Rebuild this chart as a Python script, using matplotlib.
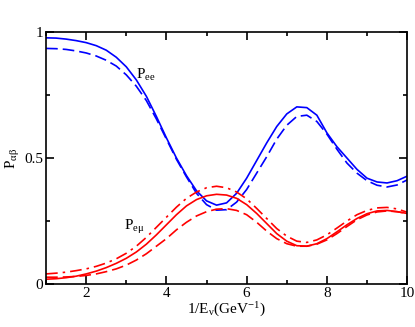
import numpy as np
import matplotlib.pyplot as plt
from matplotlib.ticker import MultipleLocator

plt.rcParams['font.family'] = ['Liberation Serif', 'DejaVu Serif']
plt.rcParams['mathtext.fontset'] = 'custom'
plt.rcParams['mathtext.rm'] = 'Liberation Serif'
plt.rcParams['mathtext.it'] = 'Liberation Serif:italic'

# 1/E_nu grid (GeV^-1)
x = [1.0, 1.25, 1.5, 1.75, 2.0, 2.25, 2.5, 2.75, 3.0, 3.25, 3.5, 3.75, 4.0, 4.25,
     4.5, 4.75, 5.0, 5.25, 5.5, 5.75, 6.0, 6.25, 6.5, 6.75, 7.0, 7.25, 7.5, 7.75,
     8.0, 8.25, 8.5, 8.75, 9.0, 9.25, 9.5, 9.75, 10.0]

# Pee (blue)
pee_solid = [0.977, 0.976, 0.972, 0.966, 0.958, 0.946, 0.928, 0.90, 0.862, 0.81,
             0.745, 0.665, 0.58, 0.50, 0.43, 0.37, 0.33, 0.313, 0.322, 0.36, 0.42,
             0.49, 0.56, 0.625, 0.675, 0.703, 0.70, 0.67, 0.60, 0.545, 0.50, 0.455,
             0.42, 0.405, 0.401, 0.41, 0.428]
pee_dashed = [0.935, 0.934, 0.931, 0.925, 0.917, 0.905, 0.888, 0.865, 0.83, 0.785,
              0.728, 0.655, 0.575, 0.495, 0.425, 0.36, 0.315, 0.293, 0.295, 0.325,
              0.375, 0.44, 0.505, 0.575, 0.63, 0.665, 0.67, 0.645, 0.595, 0.535,
              0.48, 0.44, 0.41, 0.392, 0.385, 0.393, 0.413]

# Pemu (red)
pem_solid = [0.019, 0.021, 0.025, 0.031, 0.04, 0.051, 0.065, 0.082, 0.102, 0.127,
             0.158, 0.195, 0.235, 0.275, 0.31, 0.335, 0.35, 0.356, 0.353, 0.34, 0.315,
             0.28, 0.24, 0.20, 0.17, 0.152, 0.15, 0.16, 0.18, 0.207, 0.235, 0.26,
             0.279, 0.29, 0.292, 0.287, 0.28]
pem_dashed = [0.027, 0.027, 0.028, 0.03, 0.034, 0.04, 0.049, 0.06, 0.075, 0.095,
              0.12, 0.15, 0.18, 0.215, 0.245, 0.27, 0.287, 0.297, 0.299, 0.292,
              0.275, 0.245, 0.21, 0.18, 0.16, 0.15, 0.15, 0.158, 0.175, 0.2, 0.228,
              0.255, 0.274, 0.286, 0.29, 0.287, 0.28]
pem_dashdot = [0.04, 0.043, 0.047, 0.053, 0.06, 0.07, 0.083, 0.10, 0.122, 0.15,
               0.185, 0.225, 0.265, 0.305, 0.34, 0.365, 0.382, 0.388, 0.382, 0.365,
               0.338, 0.30, 0.26, 0.22, 0.19, 0.17, 0.165, 0.175, 0.195, 0.222, 0.25,
               0.275, 0.292, 0.302, 0.304, 0.298, 0.285]

fig = plt.figure(figsize=(4.15, 3.27), dpi=100)
ax = fig.add_axes([0.111, 0.1315, 0.870, 0.7705])

lw = 1.2
blue, red = '#0000ff', '#ff0000'
ax.plot(x, pee_solid, color=blue, lw=lw)
ax.plot(x, pee_dashed, color=blue, lw=lw, dashes=(7, 3))
ax.plot(x, pem_solid, color=red, lw=lw)
ax.plot(x, pem_dashed, color=red, lw=lw, dashes=(7, 3))
ax.plot(x, pem_dashdot, color=red, lw=lw, dashes=(7, 3, 1.5, 3))

ax.set_xlim(1, 10)
ax.set_ylim(0, 1)
ax.xaxis.set_major_locator(MultipleLocator(2))
ax.xaxis.set_minor_locator(MultipleLocator(1))
ax.yaxis.set_minor_locator(MultipleLocator(0.25))
ax.set_yticks([0, 0.5, 1])
ax.set_yticklabels(['0', '0.5', '1'])
ax.tick_params(which='both', direction='in', top=True, right=True, labelsize=11,
               width=1.2, pad=2)
ax.tick_params(which='major', length=6)
ax.tick_params(which='minor', length=3)
for s in ax.spines.values():
    s.set_linewidth(1.2)

ax.set_xlabel(r'1/E$_{\mathrm{\nu}}$(GeV$^{\mathrm{-1}}$)', fontsize=11, labelpad=1)
ax.set_ylabel(r'P$_{\mathrm{\alpha\beta}}$', fontsize=11, labelpad=2)

ax.text(3.25, 0.83, r'P$_{\mathrm{ee}}$', fontsize=11, va='center')
ax.text(2.95, 0.225, r'P$_{\mathrm{e\mu}}$', fontsize=11, va='center')

fig.savefig('out.png', dpi=100)
